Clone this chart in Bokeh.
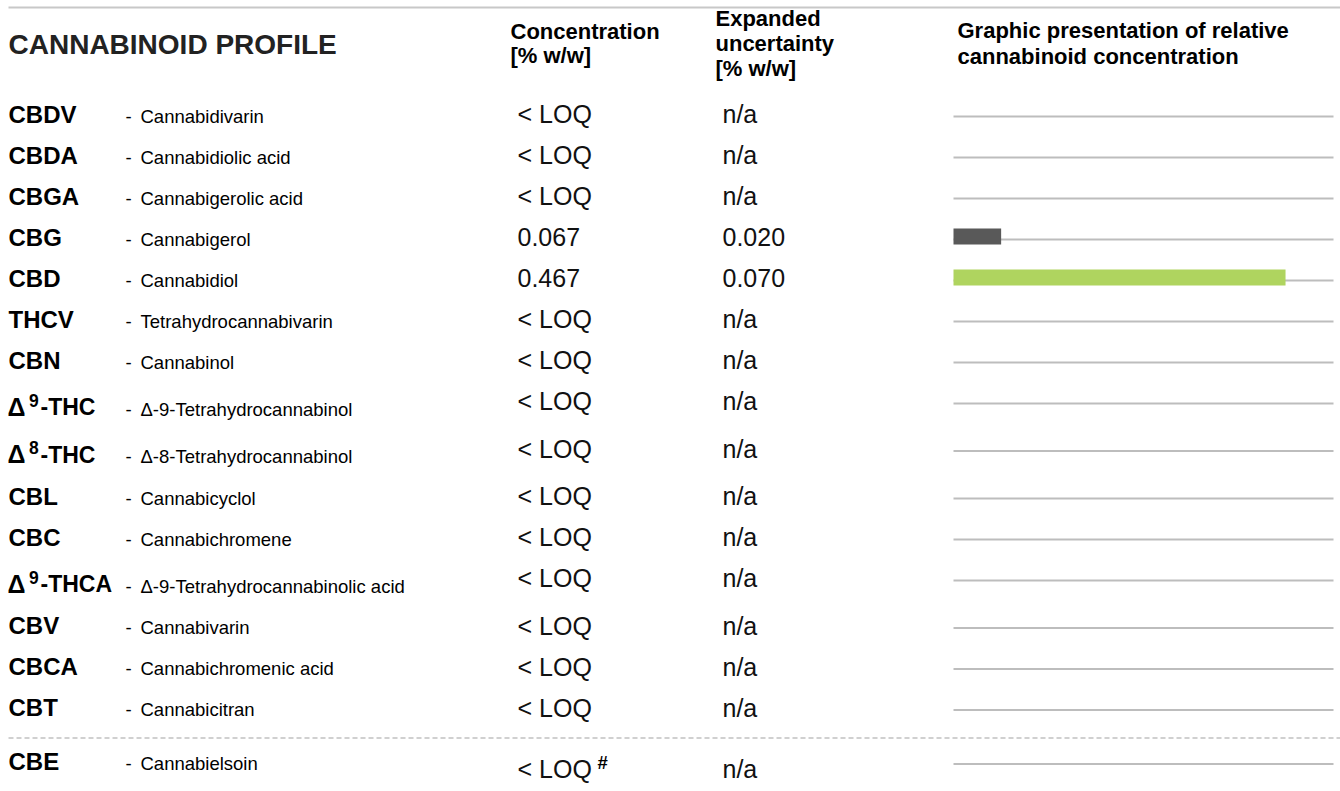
from bokeh.plotting import figure
from bokeh.models import Range1d, ColumnDataSource
from bokeh.embed import file_html
from bokeh.resources import INLINE
from bokeh.core.properties import value

# ---------------- data ----------------
codes = ["CBDV", "CBDA", "CBGA", "CBG", "CBD", "THCV", "CBN", "Δ9-THC", "Δ8-THC",
         "CBL", "CBC", "Δ9-THCA", "CBV", "CBCA", "CBT", "CBE"]
names = ["Cannabidivarin", "Cannabidiolic acid", "Cannabigerolic acid", "Cannabigerol",
         "Cannabidiol", "Tetrahydrocannabivarin", "Cannabinol", "Δ-9-Tetrahydrocannabinol",
         "Δ-8-Tetrahydrocannabinol", "Cannabicyclol", "Cannabichromene",
         "Δ-9-Tetrahydrocannabinolic acid", "Cannabivarin", "Cannabichromenic acid",
         "Cannabicitran", "Cannabielsoin"]
concentration = [None, None, None, 0.067, 0.467, None, None, None, None,
                 None, None, None, None, None, None, None]
uncertainty = [None, None, None, 0.020, 0.070, None, None, None, None,
               None, None, None, None, None, None, None]
footnote_rows = ["CBE"]          # rows below the dashed separator, marked with '#'
highlight = "CBD"
below_loq_label = "< LOQ"
na_label = "n/a"
title_text = "CANNABINOID PROFILE"
header_conc = ["Concentration", "[% w/w]"]
header_unc = ["Expanded", "uncertainty", "[% w/w]"]
header_graph = ["Graphic presentation of relative", "cannabinoid concentration"]

# ---------------- layout ----------------
W, H = 1340, 791
FONT = "Liberation Sans"
p = figure(width=W, height=H, output_backend="svg", toolbar_location=None,
           x_range=Range1d(0, W), y_range=Range1d(H, 0),
           min_border=0, outline_line_color=None)
p.xaxis.visible = False
p.yaxis.visible = False
p.grid.visible = False
p.background_fill_color = "white"

# bar track: 0 % at x=953, 711 px per % w/w
X0, PX_PER = 953.0, 711.0
p.extra_x_ranges = {"conc": Range1d((0 - X0) / PX_PER, (W - X0) / PX_PER)}
track_max = (1333 - X0) / PX_PER

# row line positions
line_y = []
y = 116.0
for i, c in enumerate(codes):
    if i > 0:
        step = 41.0
        if codes[i - 1].startswith("Δ"):
            step += 6.5
        if c in footnote_rows and codes[i - 1] not in footnote_rows:
            step += 13.0
        y += step
    line_y.append(y)

sup = [c.startswith("Δ") for c in codes]
code_base = [ly + (12.5 if s else 6.5) for ly, s in zip(line_y, sup)]
val_base = [ly + (14.0 if c in footnote_rows else 7.0) for ly, c in zip(line_y, codes)]

# top rule
p.segment(x0=[8], x1=[W], y0=[7], y1=[7], line_color="#c8c8c8", line_width=2)

# separator (dashed) above footnote rows
for i, c in enumerate(codes):
    if c in footnote_rows and (i == 0 or codes[i - 1] not in footnote_rows):
        sy = (line_y[i - 1] + line_y[i]) / 2 + 1
        p.segment(x0=[8], x1=[W], y0=[sy], y1=[sy], line_color="#d0d0d0",
                  line_width=2, line_dash="5 3")

def txt(xs, ys, texts, size, bold=False, color="#000000"):
    adj = 0.37 * size
    src = ColumnDataSource(dict(x=xs, y=[v - adj for v in ys], t=texts))
    p.text(x="x", y="y", text="t", source=src, text_font=value(FONT),
           text_font_size=f"{size}px", text_font_style="bold" if bold else "normal",
           text_color=color, text_align="left", text_baseline="alphabetic")

# headers
txt([8], [54], [title_text], 28, True, "#222222")
txt([510, 510], [39, 63], header_conc, 22, True)
txt([715, 715, 715], [26, 51, 76], header_unc, 22, True)
txt([957, 957], [38, 64], header_graph, 22, True)

# codes
plain_idx = [i for i, s in enumerate(sup) if not s]
txt([8] * len(plain_idx), [code_base[i] for i in plain_idx],
    [codes[i] for i in plain_idx], 24, True)
sup_idx = [i for i, s in enumerate(sup) if s]
txt([7] * len(sup_idx), [code_base[i] for i in sup_idx], ["Δ"] * len(sup_idx), 25, True)
txt([28.5] * len(sup_idx), [code_base[i] - 9.5 for i in sup_idx],
    [codes[i][1] for i in sup_idx], 17.5, True)
txt([40] * len(sup_idx), [code_base[i] for i in sup_idx],
    [codes[i][2:] for i in sup_idx], 23, True)

# names
txt([125] * len(codes), code_base, ["-"] * len(codes), 18.5)
txt([140] * len(codes), code_base, names, 18.5)

# values
conc_txt = [below_loq_label if v is None else f"{v:.3f}" for v in concentration]
unc_txt = [na_label if v is None else f"{v:.3f}" for v in uncertainty]
txt([517] * len(codes), val_base, conc_txt, 25, False, "#111111")
txt([722] * len(codes), val_base, unc_txt, 25, False, "#111111")
fn_idx = [i for i, c in enumerate(codes) if c in footnote_rows]
txt([597] * len(fn_idx), [val_base[i] - 9 for i in fn_idx], ["#"] * len(fn_idx), 18.5, True)

# tracks and bars
p.segment(x0=[0.0] * len(codes), x1=[track_max] * len(codes), y0=line_y, y1=line_y,
          line_color="#bdbdbd", line_width=2, x_range_name="conc")
bi = [i for i, v in enumerate(concentration) if v is not None]
bsrc = ColumnDataSource(dict(
    right=[concentration[i] for i in bi],
    y=[line_y[i] - 3 for i in bi],
    color=["#afd45f" if codes[i] == highlight else "#595959" for i in bi]))
p.hbar(y="y", left=0, right="right", height=16, color="color", line_color=None,
       source=bsrc, x_range_name="conc")

open("out.html", "w").write(file_html(p, INLINE))
